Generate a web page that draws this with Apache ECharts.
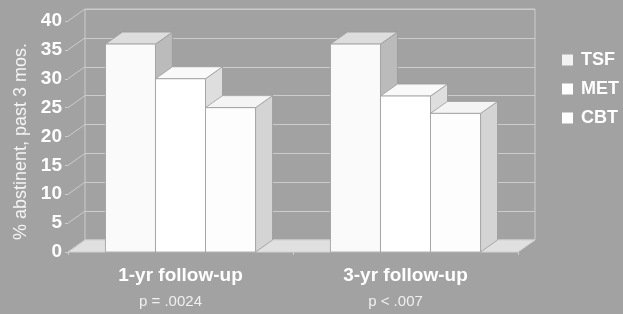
<!DOCTYPE html>
<html>
<head>
<meta charset="utf-8">
<script src="https://cdn.jsdelivr.net/npm/echarts@6/dist/echarts.min.js"></script>
<style>
    html, body { margin: 0; padding: 0; background: #a2a2a2; }
    #chart { width: 623px; height: 314px; }
</style>
</head>
<body>
<div id="chart"></div>
<script>
// data
let categories = ["1-yr follow-up", "3-yr follow-up"];
let pValues = ["p = .0024", "p < .007"];
let legendNames = ["TSF", "MET", "CBT"];
let tsf = [36, 36];
let met = [30, 27];
let cbt = [25, 24];
let yTicks = [0, 5, 10, 15, 20, 25, 30, 35, 40];

// 3d look
const DX = 17;
const DY = -12;
const BAR_SHARE = 0.667;
const font = "Liberation Sans";

// front / side / top shade of each series
const faces = [
    { front: "#fafafa", side: "#bbbbbb", top: "#dddddd", legend: "#f2f2f2" },
    { front: "#ffffff", side: "#dedede", top: "#f9f9f9", legend: "#ffffff" },
    { front: "#fdfdfd", side: "#d4d4d4", top: "#f4f4f4", legend: "#ffffff" },
];
const edge = { stroke: "#9a9a9a", lineWidth: 0.8 };

let chart = echarts.init(document.getElementById("chart"));

function barRender(idx) {
    return function (params, api) {
        let cat = api.value(0);
        let val = api.value(1);
        let base = api.coord([cat, 0]);
        let top = api.coord([cat, val]);
        let band = api.size([1, 0])[0];
        let w = (band * BAR_SHARE) / 3;
        let x0 = base[0] - (band * BAR_SHARE) / 2 + idx * w;
        let x1 = x0 + w;
        let yt = top[1];
        let yb = base[1];
        let c = faces[idx];
        return {
            type: "group",
            children: [
                {
                    type: "polygon",
                    shape: { points: [[x1, yt], [x1 + DX, yt + DY], [x1 + DX, yb + DY], [x1, yb]] },
                    style: Object.assign({ fill: c.side }, edge),
                },
                {
                    type: "polygon",
                    shape: { points: [[x0, yt], [x0 + DX, yt + DY], [x1 + DX, yt + DY], [x1, yt]] },
                    style: Object.assign({ fill: c.top }, edge),
                },
                {
                    type: "rect",
                    shape: { x: x0, y: yt, width: w, height: yb - yt },
                    style: Object.assign({ fill: c.front }, edge),
                },
            ],
        };
    };
}

// floor + left wall lines, built from the front grid
function frameRender(params, api) {
    let cs = params.coordSys;
    let y = api.coord([0, api.value(1)])[1];
    let children = [
        {
            type: "line",
            shape: { x1: cs.x, y1: y, x2: cs.x + DX, y2: y + DY },
            style: { stroke: "#cccccc", lineWidth: 1 },
        },
    ];
    if (params.dataIndex === 0) {
        children.unshift({
            type: "polygon",
            shape: {
                points: [
                    [cs.x, y],
                    [cs.x + cs.width, y],
                    [cs.x + cs.width + DX, y + DY],
                    [cs.x + DX, y + DY],
                ],
            },
            style: { fill: "#e0e0e0", stroke: "#d0d0d0", lineWidth: 1 },
        });
    }
    return { type: "group", children: children };
}

let barData = [tsf, met, cbt];

chart.setOption({
    backgroundColor: "#a2a2a2",
    animation: false,
    legend: {
        orient: "vertical",
        left: 562,
        top: 51,
        itemWidth: 11,
        itemHeight: 11,
        itemGap: 11,
        padding: 0,
        icon: "rect",
        data: legendNames,
        textStyle: {
            color: "#ffffff",
            fontSize: 18,
            fontWeight: "bold",
            fontFamily: font,
            padding: [0, 0, 0, 3],
        },
    },
    grid: [
        // back wall
        { show: true, left: 85, right: 88, top: 9, bottom: 74, borderColor: "#cccccc", borderWidth: 1 },
        // front
        { left: 68, right: 105, top: 21, bottom: 62 },
    ],
    xAxis: [
        {
            gridIndex: 0,
            type: "category",
            data: categories,
            show: false,
        },
        {
            gridIndex: 1,
            type: "category",
            data: categories,
            axisLine: { show: false },
            axisTick: { show: true, length: 3, lineStyle: { color: "#cccccc" } },
            axisLabel: {
                margin: 11,
                formatter: function (value, i) {
                    return "{a|" + value + "}\n{b|" + pValues[i] + "}";
                },
                rich: {
                    a: { color: "#ffffff", fontSize: 19, fontWeight: "bold", fontFamily: font, lineHeight: 26 },
                    b: { color: "#f0f0f0", fontSize: 15, fontFamily: font, lineHeight: 25, padding: [0, 20, 0, 0] },
                },
            },
        },
    ],
    yAxis: [
        {
            gridIndex: 0,
            type: "value",
            min: 0,
            max: 40,
            interval: 5,
            axisLine: { show: false },
            axisTick: { show: false },
            axisLabel: { show: false },
            splitLine: { lineStyle: { color: "#cccccc", width: 1 } },
        },
        {
            gridIndex: 1,
            type: "value",
            min: 0,
            max: 40,
            interval: 5,
            name: "% abstinent, past 3 mos.",
            nameLocation: "middle",
            nameGap: 36,
            nameTextStyle: { color: "#f4f4f4", fontSize: 18, fontFamily: font, padding: [0, 10, 0, 0] },
            axisLine: { show: false },
            axisTick: { show: true, length: 3, lineStyle: { color: "#cccccc" } },
            axisLabel: {
                margin: 6,
                color: "#ffffff",
                fontSize: 19,
                fontWeight: "bold",
                fontFamily: font,
            },
            splitLine: { show: false },
        },
    ],
    series: [
        {
            name: "frame",
            type: "custom",
            xAxisIndex: 1,
            yAxisIndex: 1,
            z: 1,
            silent: true,
            renderItem: frameRender,
            data: yTicks.map((v) => [0, v]),
        },
    ].concat(
        legendNames.map((name, idx) => ({
            name: name,
            type: "custom",
            xAxisIndex: 1,
            yAxisIndex: 1,
            z: 2,
            itemStyle: { color: faces[idx].legend },
            renderItem: barRender(idx),
            data: barData[idx].map((v, i) => [i, v]),
        }))
    ),
});
</script>
</body>
</html>
